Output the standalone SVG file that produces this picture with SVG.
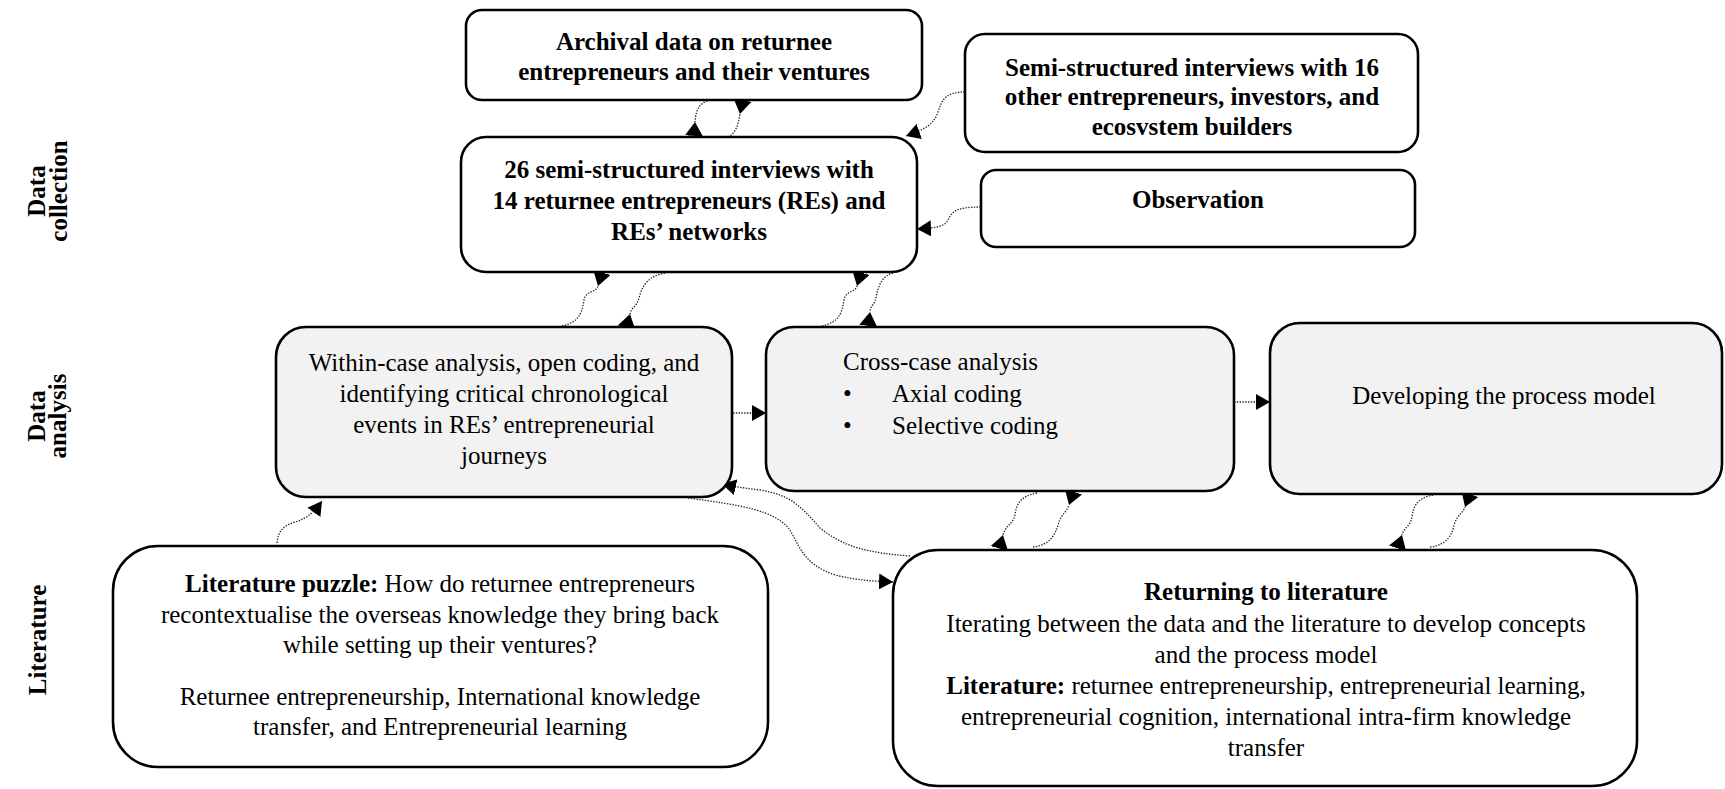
<svg xmlns="http://www.w3.org/2000/svg" width="1725" height="789" viewBox="0 0 1725 789">
  <style>
    text { font-family: "Liberation Serif", "Times New Roman", serif; font-size: 25px; fill: #000; }
    .b { font-weight: bold; }
    .c { text-anchor: middle; }
    .box { fill: #fff; stroke: #000; stroke-width: 2.6; }
    .grey { fill: #f2f2f2; }
    .link { fill: none; stroke: #222; stroke-width: 1.3; stroke-dasharray: 1.4 1.4; }
    .to { marker-end: url(#tip); }
    .back { marker-end: url(#foot); }
  </style>
  <defs>
    <!-- ordinary arrowhead: point sits on the end of the line -->
    <marker id="tip" viewBox="0 0 14 16" refX="14" refY="8" markerWidth="14" markerHeight="16" markerUnits="userSpaceOnUse" orient="auto">
      <path d="M0,0 L14,8 L0,16 z" fill="#000"/>
    </marker>
    <!-- head whose flat side rests on the box edge, point on the line end -->
    <marker id="foot" viewBox="0 0 14 18" refX="0" refY="9" markerWidth="14" markerHeight="18" markerUnits="userSpaceOnUse" orient="auto">
      <path d="M0,9 L14,0 L14,18 z" fill="#000"/>
    </marker>
  </defs>

  <!-- phase labels -->
  <g id="phase-labels" class="b">
    <text class="b c" transform="translate(45,191) rotate(-90)">Data</text>
    <text class="b c" transform="translate(67,191) rotate(-90)">collection</text>
    <text class="b c" transform="translate(45,416) rotate(-90)">Data</text>
    <text class="b c" transform="translate(66,416) rotate(-90)">analysis</text>
    <text class="b c" transform="translate(46,640) rotate(-90)">Literature</text>
  </g>

  <!-- connectors -->
  <g id="connectors">
    <path class="link back" d="M710,100 C700,103 696,108 695,122"/>
    <path class="link back" d="M728,137 C736,133 738,125 740,114"/>
    <path class="link to" d="M965,92 C945,92 942,100 938,112 C934,124 926,129 906,136"/>
    <path class="link to" d="M981,207 C955,207 952,212 948,220 C945,226 938,228 917,229"/>
    <path class="link back" d="M562,326 C580,322 582,312 584,300 C586,290 596,293 598,286"/>
    <path class="link back" d="M665,273 C648,276 642,286 639,298 C636,308 632,306 630,314"/>
    <path class="link back" d="M822,326 C840,322 842,312 844,300 C846,290 855,293 857,286"/>
    <path class="link back" d="M893,273 C882,276 878,286 876,298 C874,306 871,304 870,312"/>
    <path class="link to" d="M733,413 L766,413"/>
    <path class="link to" d="M1234,402 L1270,402"/>
    <path class="link back" d="M1033,547 C1050,545 1055,535 1058,525 C1062,512 1066,514 1069,505"/>
    <path class="link back" d="M1037,493 C1020,496 1016,505 1015,515 C1012,526 1006,524 1003,535"/>
    <path class="link back" d="M1430,547 C1447,545 1452,535 1454,525 C1458,513 1462,515 1465,507"/>
    <path class="link back" d="M1433,495 C1417,498 1413,507 1412,517 C1410,527 1405,526 1402,535"/>
    <path class="link to" d="M277,543 C278,530 285,525 295,522 C305,519 312,515 322,501"/>
    <path class="link to" d="M910,556 C870,553 845,548 820,528 C800,505 790,495 760,490 C745,488 735,487 722,484"/>
    <path class="link to" d="M688,498 C740,505 775,510 790,530 C800,548 805,565 835,575 C855,580 870,581 893,582"/>
  </g>

  <!-- data collection -->
  <g id="archival">
    <rect class="box" x="466" y="10" width="456" height="90" rx="16"/>
    <text class="b c" x="694" y="50">Archival data on returnee</text>
    <text class="b c" x="694" y="80">entrepreneurs and their ventures</text>
  </g>
  <g id="interviews-returnees">
    <rect class="box" x="461" y="137" width="456" height="135" rx="25"/>
    <text class="b c" x="689" y="178">26 semi-structured interviews with</text>
    <text class="b c" x="689" y="209">14 returnee entrepreneurs (REs) and</text>
    <text class="b c" x="689" y="240">REs’ networks</text>
  </g>
  <g id="interviews-others">
    <rect class="box" x="965" y="34" width="453" height="118" rx="20"/>
    <text class="b c" x="1192" y="76">Semi-structured interviews with 16</text>
    <text class="b c" x="1192" y="105">other entrepreneurs, investors, and</text>
    <text class="b c" x="1192" y="135">ecosvstem builders</text>
  </g>
  <g id="observation">
    <rect class="box" x="981" y="170" width="434" height="77" rx="15"/>
    <text class="b c" x="1198" y="208">Observation</text>
  </g>

  <!-- data analysis -->
  <g id="within-case">
    <rect class="box grey" x="276" y="327" width="456" height="170" rx="30"/>
    <text class="c" x="504" y="371">Within-case analysis, open coding, and</text>
    <text class="c" x="504" y="402">identifying critical chronological</text>
    <text class="c" x="504" y="433">events in REs’ entrepreneurial</text>
    <text class="c" x="504" y="464">journeys</text>
  </g>
  <g id="cross-case">
    <rect class="box grey" x="766" y="327" width="468" height="164" rx="28"/>
    <text x="843" y="370">Cross-case analysis</text>
    <text x="843" y="402">•</text>
    <text x="892" y="402">Axial coding</text>
    <text x="843" y="434">•</text>
    <text x="892" y="434">Selective coding</text>
  </g>
  <g id="process-model">
    <rect class="box grey" x="1270" y="323" width="452" height="171" rx="30"/>
    <text class="c" x="1504" y="404">Developing the process model</text>
  </g>

  <!-- literature -->
  <g id="literature-puzzle">
    <rect class="box" x="113" y="546" width="655" height="221" rx="45"/>
    <text class="c" x="440" y="592"><tspan class="b">Literature puzzle:</tspan> How do returnee entrepreneurs</text>
    <text class="c" x="440" y="623">recontextualise the overseas knowledge they bring back</text>
    <text class="c" x="440" y="653">while setting up their ventures?</text>
    <text class="c" x="440" y="705">Returnee entrepreneurship, International knowledge</text>
    <text class="c" x="440" y="735">transfer, and Entrepreneurial learning</text>
  </g>
  <g id="returning-to-literature">
    <rect class="box" x="893" y="550" width="744" height="236" rx="45"/>
    <text class="b c" x="1266" y="600">Returning to literature</text>
    <text class="c" x="1266" y="632">Iterating between the data and the literature to develop concepts</text>
    <text class="c" x="1266" y="663">and the process model</text>
    <text class="c" x="1266" y="694"><tspan class="b">Literature:</tspan> returnee entrepreneurship, entrepreneurial learning,</text>
    <text class="c" x="1266" y="725">entrepreneurial cognition, international intra-firm knowledge</text>
    <text class="c" x="1266" y="756">transfer</text>
  </g>
</svg>
